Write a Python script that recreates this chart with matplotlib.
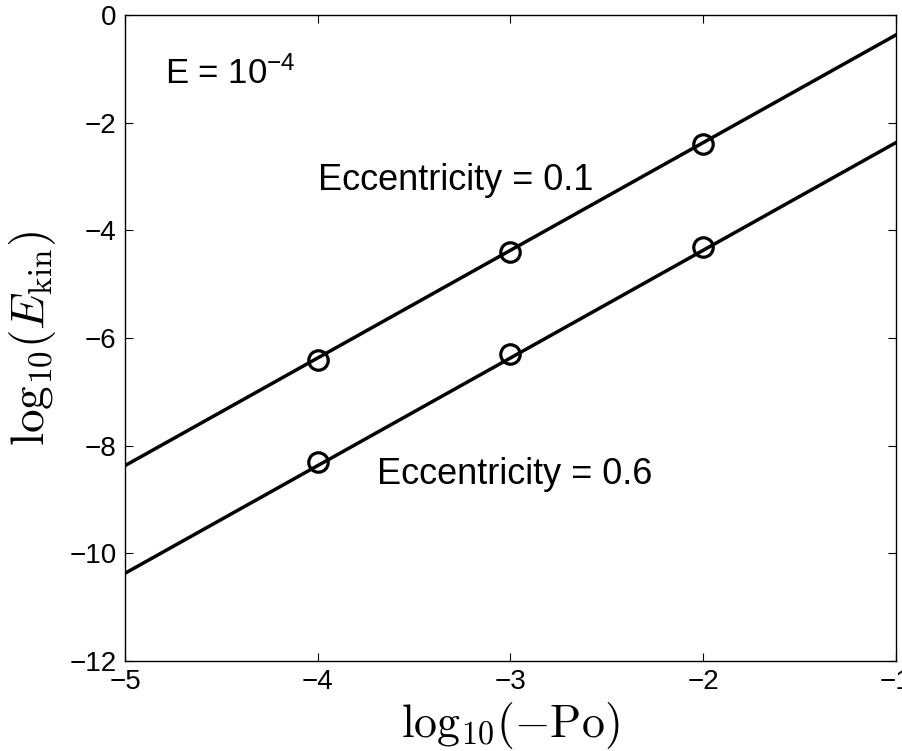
import matplotlib
matplotlib.use("Agg")
import matplotlib.pyplot as plt
import numpy as np

# Kinetic energy scaling with precession number
log_po = [-4, -3, -2]
ekin_ecc01 = [-6.4, -4.4, -2.4]
ekin_ecc06 = [-8.3, -6.3, -4.3]

# Fitted power-law lines over the full axis range
fit_x = [-5, -1]
fit_ecc01 = [-8.37, -0.37]
fit_ecc06 = [-10.37, -2.37]

xticks = [-5, -4, -3, -2, -1]
yticks = [-12, -10, -8, -6, -4, -2, 0]

plt.rcParams['font.family'] = ['Liberation Sans', 'DejaVu Sans']
plt.rcParams['mathtext.fontset'] = 'custom'
plt.rcParams['mathtext.rm'] = 'Liberation Sans'
plt.rcParams['mathtext.it'] = 'Liberation Sans:italic'
plt.rcParams['axes.unicode_minus'] = True

fig = plt.figure(figsize=(9.02, 7.51), dpi=100)
ax = fig.add_axes([0.1386, 0.1198, 0.8547, 0.8602])

line_kw = dict(color='black', lw=2.5)
mark_kw = dict(ls='none', marker='o', ms=14, mfc='none', mec='black', mew=2.3)

ax.plot(fit_x, fit_ecc01, **line_kw)
ax.plot(fit_x, fit_ecc06, **line_kw)
ax.plot(log_po, ekin_ecc01, **mark_kw)
ax.plot(log_po, ekin_ecc06, **mark_kw)

ax.set_xlim(-5, -1)
ax.set_ylim(-12, 0)
ax.set_xticks(xticks)
ax.set_yticks(yticks)
ax.tick_params(direction='in', length=6, width=0.8, top=True, right=True,
               labelsize=20, pad=6)
for s in ax.spines.values():
    s.set_linewidth(1.0)

ax.text(-4.79, -1.08, 'E = 10$^{-4}$', fontsize=25, va='center', ha='left')
ax.text(-4.0, -3.07, 'Eccentricity = 0.1', fontsize=26, va='center', ha='left')
ax.text(-3.69, -8.53, 'Eccentricity = 0.6', fontsize=26, va='center', ha='left')

ax.set_xlabel(r'$\mathrm{log}_{10}(-\mathrm{Po})$', fontsize=33,
              math_fontfamily='cm', labelpad=3)
ax.set_ylabel(r'$\mathrm{log}_{10}(E_{\mathrm{kin}})$', fontsize=34,
              math_fontfamily='cm', labelpad=8)

fig.savefig('out.png', dpi=100)
